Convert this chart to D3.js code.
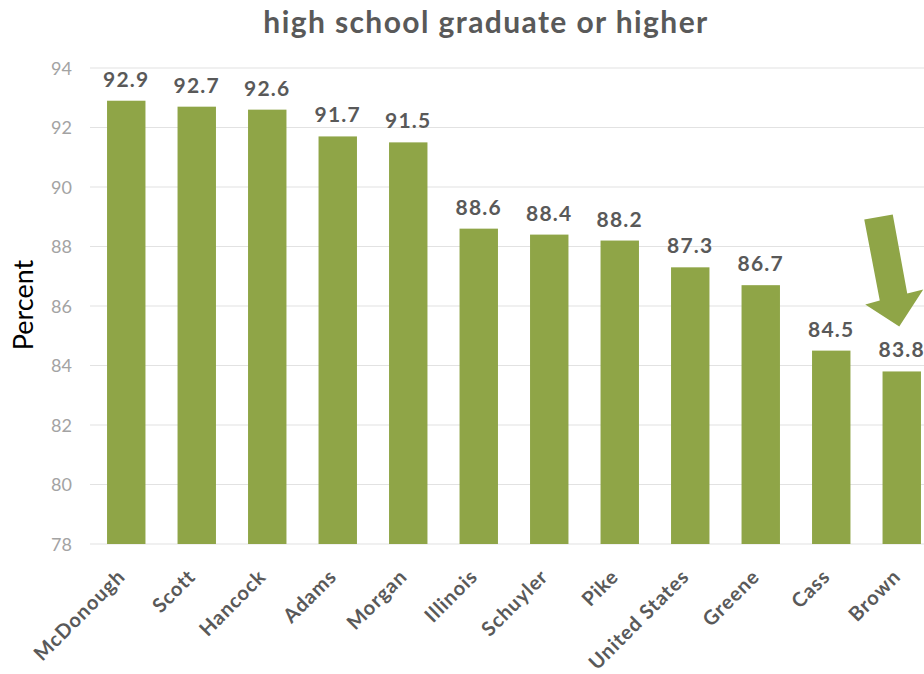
<!DOCTYPE html>
<html>
<head>
<meta charset="utf-8">
<script src="https://cdn.jsdelivr.net/npm/d3@7"></script>
<style>
  html, body { margin: 0; padding: 0; background: #fff; }
  svg { display: block; }
</style>
</head>
<body>
<svg id="chart" width="924" height="674"></svg>
<script>
const categories = ["McDonough", "Scott", "Hancock", "Adams", "Morgan", "Illinois", "Schuyler", "Pike", "United States", "Greene", "Cass", "Brown"];
const values = [92.9, 92.7, 92.6, 91.7, 91.5, 88.6, 88.4, 88.2, 87.3, 86.7, 84.5, 83.8];
const yTicks = [78, 80, 82, 84, 86, 88, 90, 92, 94];
const titleText = "high school graduate or higher";
const yAxisTitle = "Percent";
const highlighted = "Brown";

const FONT = "Lato, 'Open Sans', sans-serif";
const BAR = "#8fa547";

const svg = d3.select("#chart");
const W = 924, H = 674;

const x = d3.scaleBand().domain(categories).range([91, 937]).paddingInner(0.455).paddingOuter(0.2275);
const y = d3.scaleLinear().domain([78, 94]).range([544, 68]);

// gridlines
svg.append("g").selectAll("line").data(yTicks).join("line")
  .attr("x1", 90).attr("x2", W)
  .attr("y1", d => y(d)).attr("y2", d => y(d))
  .attr("stroke", "#e2e2e2").attr("stroke-width", 1.2);

// y axis tick labels
const yAxis = d3.axisLeft(y).tickValues(yTicks).tickSize(0).tickPadding(0);
const gy = svg.append("g").attr("transform", "translate(72,0)").call(yAxis);
gy.select(".domain").remove();
gy.selectAll("text").attr("font-family", FONT).attr("font-size", 18).attr("fill", "#a3a3a3").attr("dy", "0.34em");

// bars
svg.append("g").selectAll("rect").data(categories).join("rect")
  .attr("x", d => x(d)).attr("width", x.bandwidth())
  .attr("y", (d, i) => y(values[i]))
  .attr("height", (d, i) => y(78) - y(values[i]))
  .attr("fill", BAR);

// data labels
svg.append("g").selectAll("text").data(categories).join("text")
  .attr("x", d => x(d) + x.bandwidth() / 2)
  .attr("y", (d, i) => y(values[i]) - 14)
  .attr("text-anchor", "middle")
  .attr("font-family", FONT).attr("font-weight", "bold").attr("font-size", 21)
  .attr("letter-spacing", 1.2)
  .attr("fill", "#595959")
  .text((d, i) => values[i].toFixed(1));

// x labels
const xAxis = d3.axisBottom(x).tickSize(0).tickPadding(0);
const gx = svg.append("g").attr("transform", "translate(0,544)").call(xAxis);
gx.select(".domain").remove();
gx.selectAll("text")
  .attr("font-family", FONT).attr("font-weight", "bold").attr("font-size", 20)
  .attr("letter-spacing", 0.9)
  .attr("fill", "#595959")
  .attr("text-anchor", "end")
  .attr("y", 0).attr("dy", 0)
  .attr("transform", "translate(0,34) rotate(-45)");

// title
svg.append("text")
  .attr("x", 486).attr("y", 33)
  .attr("text-anchor", "middle")
  .attr("font-family", FONT).attr("font-weight", "bold").attr("font-size", 30)
  .attr("letter-spacing", 1.4)
  .attr("fill", "#595959")
  .text(titleText);

// y axis title
svg.append("text")
  .attr("transform", "translate(33,305) rotate(-90)")
  .attr("text-anchor", "middle")
  .attr("font-family", FONT).attr("font-size", 27)
  .attr("fill", "#000")
  .text(yAxisTitle);

// annotation arrow pointing at highlighted bar
const ax = x(highlighted) + x.bandwidth() / 2 - 2.5;
const ay = y(83.8) - 45;
const arrowPts = [
  [-35, -107], [-6.5, -112], [8, -33], [24, -37], [0, 0], [-34, -22], [-19.5, -26]
].map(p => [ax + p[0], ay + p[1]]);
svg.append("polygon")
  .attr("points", arrowPts.map(p => p.join(",")).join(" "))
  .attr("fill", BAR);
</script>
</body>
</html>
